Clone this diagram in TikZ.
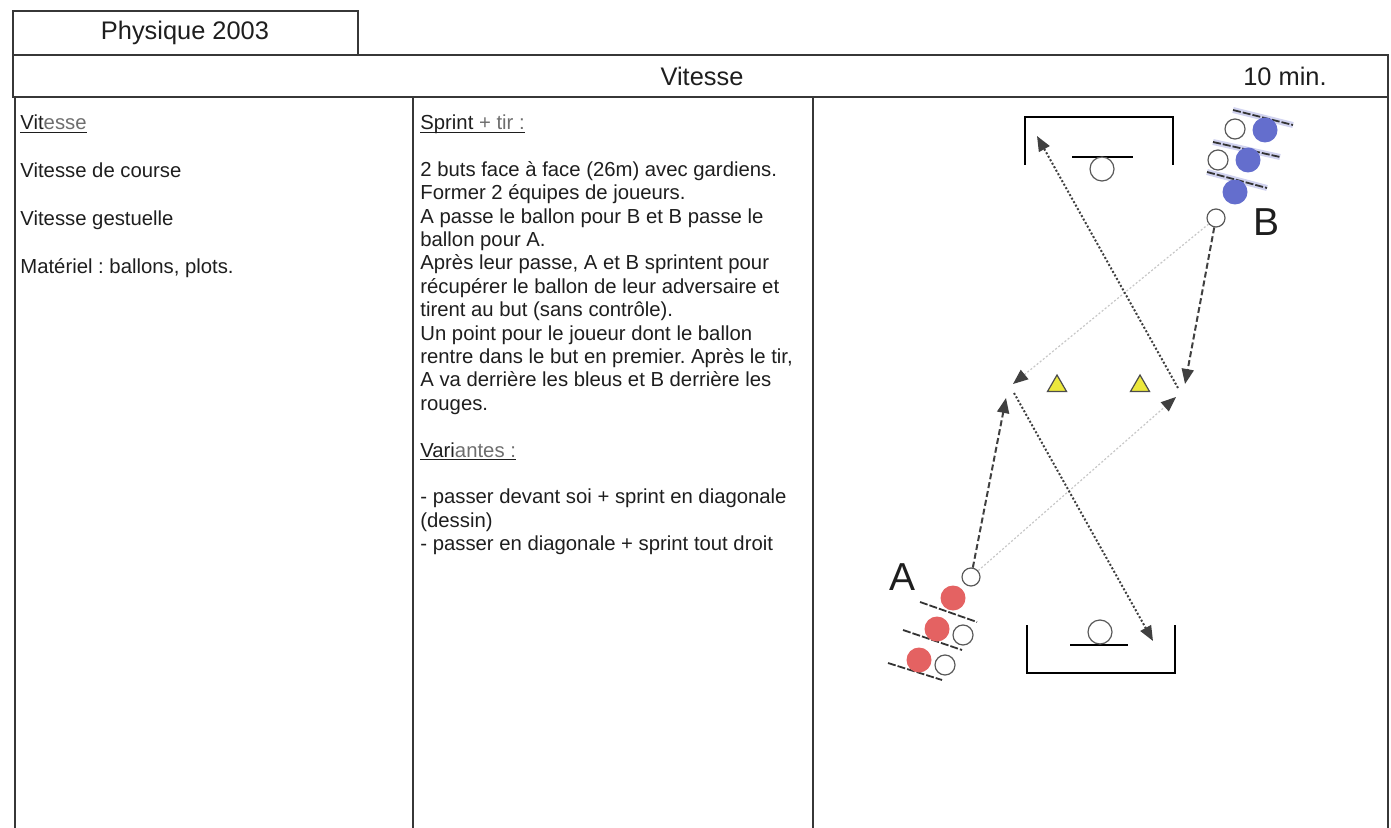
\documentclass[tikz,border=0pt]{standalone}
\usepackage{fontspec}
\setmainfont{Liberation Sans}
\usetikzlibrary{arrows.meta, shapes.geometric}
\frenchspacing

\definecolor{encre}{RGB}{30,30,30}
\definecolor{trait}{RGB}{55,55,55}
\definecolor{gris}{RGB}{110,110,110}
\definecolor{bleu}{RGB}{100,110,205}
\definecolor{rouge}{RGB}{228,98,98}
\definecolor{jaune}{RGB}{236,232,60}

\begin{document}
\begin{tikzpicture}[x=0.5pt, y=-0.5pt, text=encre]
\tikzstyle{cadre}=[draw=trait, line width=1pt]
\tikzstyle{titre}=[inner sep=0pt, font=\fontsize{12.7pt}{15pt}\selectfont]
\tikzstyle{corps}=[anchor=north west, inner sep=0pt, align=left, font=\fontsize{10.15pt}{11.7pt}\selectfont\frenchspacing]
\tikzstyle{rond}=[circle, inner sep=0pt, draw=black!65, line width=0.6pt, fill=white]
\tikzstyle{joueur}=[rond, minimum size=9pt]
\tikzstyle{balle}=[rond, minimum size=10pt]
\tikzstyle{gardien}=[rond, minimum size=12pt]
\tikzstyle{bleus}=[circle, inner sep=0pt, minimum size=12.5pt, fill=bleu]
\tikzstyle{rouges}=[circle, inner sep=0pt, minimum size=12.5pt, fill=rouge]
\tikzstyle{plot}=[regular polygon, regular polygon sides=3, minimum size=11pt, inner sep=0pt, fill=jaune, draw=black!70, line width=0.6pt]
\tikzstyle{lettre}=[inner sep=0pt, font=\fontsize{19.5pt}{20pt}\selectfont]
\tikzstyle{fleche}=[-{Triangle[length=7.5pt, width=6pt, color=black!75]}]
\tikzstyle{sprint}=[fleche, draw=black!75, line width=1pt, dash pattern=on 3pt off 1.5pt]
\tikzstyle{tir}=[fleche, draw=black!75, line width=1pt, dash pattern=on 1pt off 1pt]
\tikzstyle{passe}=[fleche, draw=black!22, line width=0.6pt, dash pattern=on 1pt off 1pt]
\tikzstyle{crosse}=[draw=black!80, line width=0.9pt, dash pattern=on 4pt off 1pt]
\tikzstyle{halo}=[draw=bleu!30, line width=3pt]
\tikzstyle{but}=[draw=black, line width=0.9pt]
    \useasboundingbox (0,0) rectangle (1391,828);
    % cadre de la fiche
    \draw[cadre] (13,11) rectangle (358,55);
    \draw[cadre, line width=1.2pt] (13,55) rectangle (1388,97);
    \draw[cadre] (15,97) -- (15,828);
    \draw[cadre] (413,97) -- (413,828);
    \draw[cadre] (813,97) -- (813,828);
    \draw[cadre] (1388,97) -- (1388,828);
    \node[titre] (physique) at (185,33) {Physique 2003};
    \node[titre] (theme) at (702,76) {Vitesse};
    \node[titre] (duree) at (1285,76) {10 min.};
    % colonnes de texte
    \node[corps] (objectifs) at (20,129) {\underline{\smash{Vit\textcolor{gris}{esse}}}\\[12.3pt]
        Vitesse de course\\[12.3pt]
        Vitesse gestuelle\\[12.3pt]
        Matériel : ballons, plots.};
    \node[corps] (consignes) at (420,129) {\underline{\smash{Sprint \textcolor{gris}{+ tir :}}}\\[11.7pt]
        2 buts face à face (26m) avec gardiens.\\
        Former 2 équipes de joueurs.\\
        A passe le ballon pour B et B passe le\\
        ballon pour A.\\
        Après leur passe, A et B sprintent pour\\
        récupérer le ballon de leur adversaire et\\
        tirent au but (sans contrôle).\\
        Un point pour le joueur dont le ballon\\
        rentre dans le but en premier. Après le tir,\\
        A va derrière les bleus et B derrière les\\
        rouges.\\[11.7pt]
        \underline{\smash{Vari\textcolor{gris}{antes :}}}\\[11.7pt]
        - passer devant soi + sprint en diagonale\\
        (dessin)\\
        - passer en diagonale + sprint tout droit};
    % buts
    \draw[but] (1025,165) |- (1173,117) -- (1173,165);
    \draw[but] (1072,157) -- (1133,157);
    \node[gardien] (gardienH) at (1102,169) {};
    \draw[but] (1027,625) |- (1175,673) -- (1175,625);
    \draw[but] (1070,645) -- (1128,645);
    \node[gardien] (gardienB) at (1100,632) {};
    % equipe bleue
    \draw[halo] (1233,110) -- (1293,125);
    \draw[halo] (1213,142) -- (1280,157);
    \draw[halo] (1207,172) -- (1267,188);
    \draw[crosse] (1233,110) -- (1293,125);
    \draw[crosse] (1213,142) -- (1280,157);
    \draw[crosse] (1207,172) -- (1267,188);
    \node[bleus] (bleu1) at (1265,130) {};
    \node[bleus] (bleu2) at (1248,160) {};
    \node[bleus] (bleu3) at (1235,192) {};
    \node[balle] (balleB1) at (1235,129) {};
    \node[balle] (balleB2) at (1218,160) {};
    \node[joueur] (B) at (1216,218) {};
    \node[lettre] (nomB) at (1266,222) {B};
    % equipe rouge
    \draw[crosse] (920,602) -- (977,622);
    \draw[crosse] (903,630) -- (962,650);
    \draw[crosse] (888,663) -- (942,680);
    \node[rouges] (rouge1) at (953,598) {};
    \node[rouges] (rouge2) at (937,629) {};
    \node[rouges] (rouge3) at (919,660) {};
    \node[balle] (balleA1) at (963,635) {};
    \node[balle] (balleA2) at (945,665) {};
    \node[joueur] (A) at (971,577) {};
    \node[lettre] (nomA) at (902,577) {A};
    % plots
    \node[plot] (plot1) at (1057,386) {};
    \node[plot] (plot2) at (1140,386) {};
    % courses, passes et tirs
    \coordinate (finA) at (1006,398);
    \coordinate (finB) at (1185,384);
    \coordinate (departA) at (1014,393);
    \coordinate (departB) at (1178,388);
    \coordinate (passeA) at (1176,397);
    \coordinate (passeB) at (1013,384);
    \coordinate (cibleH) at (1037,136);
    \coordinate (cibleB) at (1153,641);
    \path (A) edge [sprint] (finA)
          (B) edge [sprint] (finB)
          (A) edge [passe] (passeA)
          (B) edge [passe] (passeB)
          (departA) edge [tir] (cibleB)
          (departB) edge [tir] (cibleH);
\end{tikzpicture}
\end{document}
